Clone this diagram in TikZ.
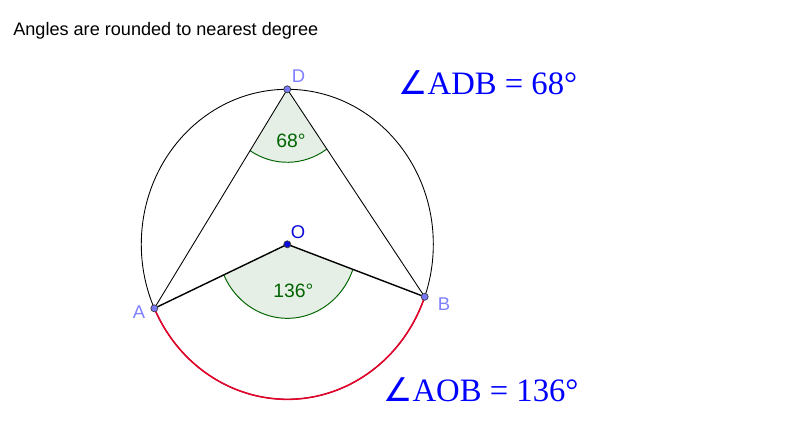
\documentclass[tikz,border=0pt]{standalone}
\usepackage{fontspec}
\setmainfont{Liberation Sans}
\newfontfamily\serifbig{Liberation Serif}
\newfontfamily\symfont{DejaVu Sans}
\definecolor{ptblue}{RGB}{120,120,250}
\definecolor{lblblue}{RGB}{128,128,255}
\definecolor{oblue}{RGB}{10,10,220}
\definecolor{angfillc}{RGB}{229,239,229}
\definecolor{anggreen}{RGB}{0,100,0}
\definecolor{arcred}{RGB}{228,0,40}

\begin{document}
\begin{tikzpicture}[x=0.02cm,y=0.02cm,
  pt/.style={circle,inner sep=0pt,minimum size=4pt,draw=black!75,line width=0.4pt,fill=ptblue},
  ptlbl/.style={text=lblblue,font=\fontsize{10.5}{12}\selectfont},
  anglbl/.style={text=anggreen,font=\fontsize{11}{13}\selectfont},
  bigtxt/.style={anchor=base west,inner sep=0pt,text=blue,font=\serifbig\fontsize{18.6}{22}\selectfont},
  angfill/.style={fill=angfillc},
  angline/.style={draw=anggreen,line width=0.55pt}]
\useasboundingbox (0,0) rectangle (800,430);
\path (13,394) node[anchor=base west,inner sep=0pt,font=\fontsize{10.3}{12}\selectfont] (note) {Angles are rounded to nearest degree};

\begin{scope}[shift={(287.3,185.7)},xscale=0.942]
\coordinate (O) at (0,0);
\coordinate (D) at (90:155);
\coordinate (A) at (204.4:155);
\coordinate (B) at (340.2:155);
% angle AOB
\fill[angfill] (O) -- (204.4:74) arc[start angle=204.4,end angle=340.2,radius=74] -- cycle;
\draw[angline] (204.4:74) arc[start angle=204.4,end angle=340.2,radius=74];
% angle ADB
\fill[angfill] (D) -- ++(237.2:73) arc[start angle=237.2,end angle=305.1,radius=73] -- cycle;
\draw[angline] (D) ++(237.2:73) arc[start angle=237.2,end angle=305.1,radius=73];
\draw[line width=0.5pt] (O) circle[radius=155];
\draw[arcred,line width=0.9pt] (A) arc[start angle=204.4,end angle=340.2,radius=155];
\end{scope}

\draw[line width=0.5pt] (D) -- (A);
\draw[line width=0.5pt] (D) -- (B);
\draw[line width=0.8pt] (O) -- (A);
\draw[line width=0.8pt] (O) -- (B);

\node[pt] (pA) at (A) {};
\node[pt] (pB) at (B) {};
\node[pt] (pD) at (D) {};
\node[pt,fill=oblue] (pO) at (O) {};

\path (298.5,353.5) node[ptlbl] (lD) {D};
\path (298,197.5) node[ptlbl,text=oblue] (lO) {O};
\path (139,118) node[ptlbl] (lA) {A};
\path (444,126) node[ptlbl] (lB) {B};

\path (291,289) node[anglbl] (aD) {68°};
\path (293.3,139) node[anglbl] (aO) {136°};

\path (398,336) node[bigtxt] (eqD) {{\symfont ∠}ADB = 68°};
\path (383,28.3) node[bigtxt] (eqO) {{\symfont ∠}AOB = 136°};
\end{tikzpicture}
\end{document}
